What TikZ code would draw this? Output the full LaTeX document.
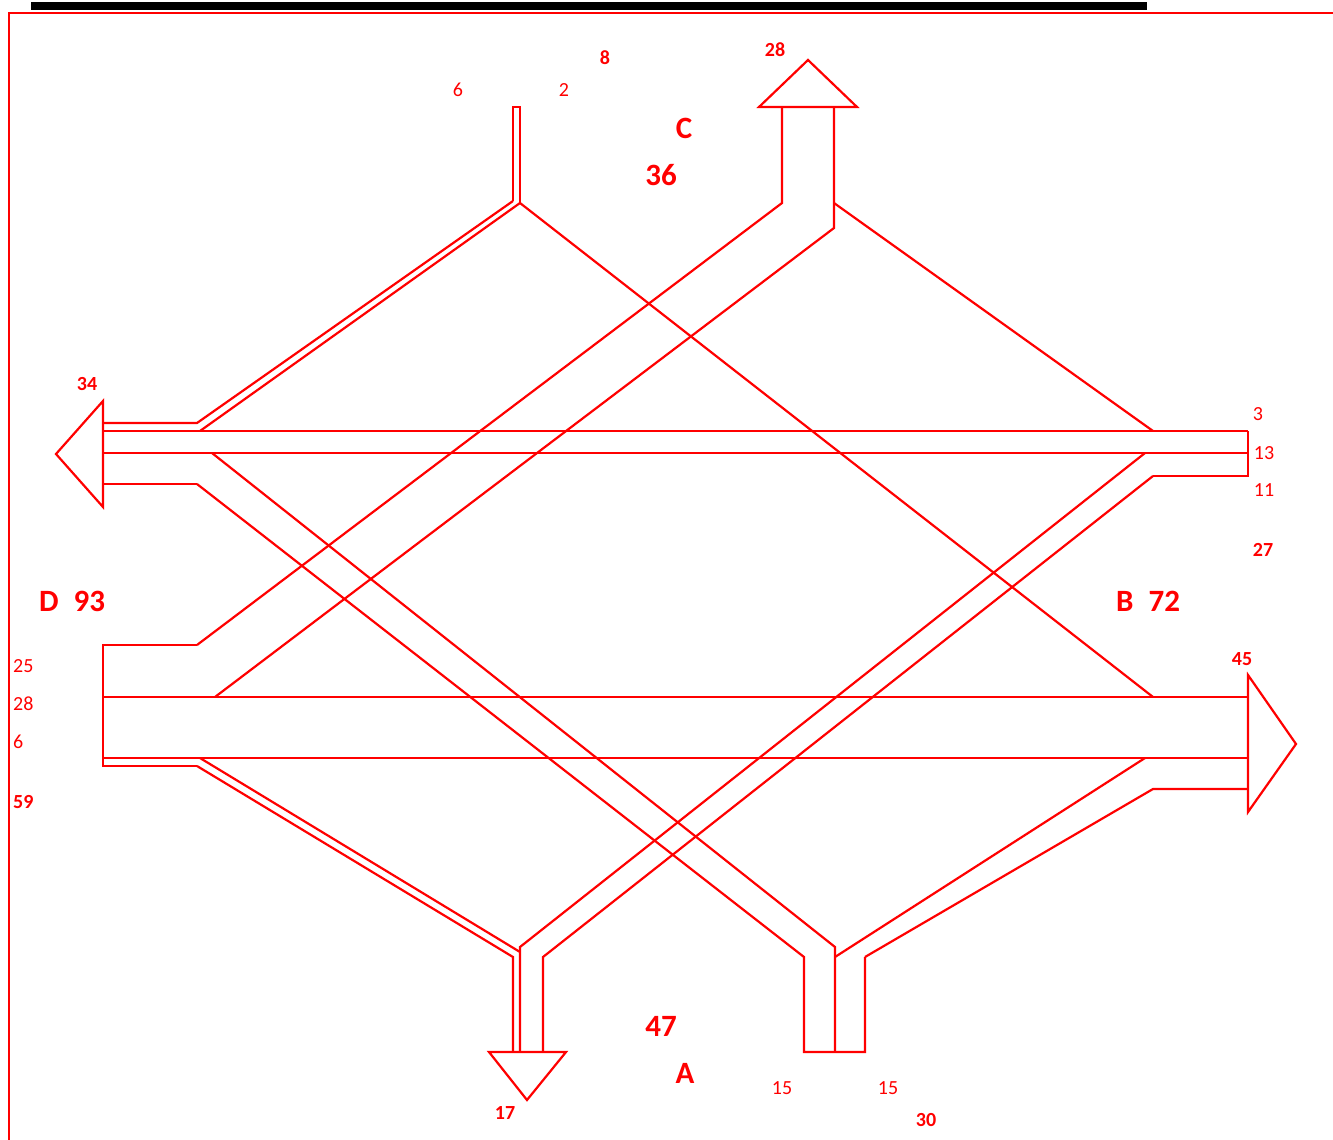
\documentclass[tikz,border=0pt]{standalone}
\usepackage{fontspec}
\setmainfont{Carlito}
\begin{document}
\begin{tikzpicture}[x=1pt,y=-1pt,
  flow/.style={draw=red, line width=2.2pt},
  small/.style={text=red, font=\fontsize{20}{24}\selectfont, inner sep=0pt},
  smallb/.style={text=red, font=\fontsize{20}{24}\selectfont\bfseries, inner sep=0pt},
  big/.style={text=red, font=\fontsize{31}{36}\selectfont\bfseries, inner sep=0pt}]
\useasboundingbox (0,0) rectangle (1333,1140);
% frame
\fill[black] (31,2) rectangle (1147,10);
\draw[red, line width=2pt] (9,1140) -- (9,13) -- (1333,13);
% junction coordinates
\coordinate (CinL) at (513,201);
\coordinate (CinR) at (520,203);
\coordinate (CoutL) at (782,203);
\coordinate (CoutRb) at (834,228);
\coordinate (CoutRt) at (834,203);
\coordinate (Douta) at (197,423);
\coordinate (Doutb) at (200,431);
\coordinate (Doutc) at (212,453);
\coordinate (Doutd) at (197,484);
\coordinate (Bina) at (1153,431);
\coordinate (Binb) at (1145,453);
\coordinate (Binc) at (1153,476);
\coordinate (Dina) at (197,645);
\coordinate (Dinb) at (215,697);
\coordinate (Dinc) at (200,758);
\coordinate (Dind) at (197,766);
\coordinate (Bouta) at (1153,697);
\coordinate (Boutb) at (1145,758);
\coordinate (Boutc) at (1153,789);
\coordinate (Aouta) at (513,957);
\coordinate (Aoutb) at (520,952);
\coordinate (Aoutbt) at (520,947);
\coordinate (Aoutc) at (543,957);
\coordinate (Aina) at (804,957);
\coordinate (Ainbt) at (835,947);
\coordinate (Ainb) at (835,957);
\coordinate (Ainc) at (865,957);
% C inflow
\draw[flow] (CinL) -- (513,107) -- (520,107) -- (CinR);
\draw[flow] (CinL) -- (Douta) -- (103,423);
\draw[flow] (CinR) -- (Doutb);
\draw[flow] (CinR) -- (Bouta);
% C outflow
\draw[flow] (Dina) -- (CoutL) -- (782,107);
\draw[flow] (834,107) -- (CoutRb) -- (Dinb);
\draw[flow] (759,107) -- (857,107) -- (808,60) -- cycle;
\draw[flow] (CoutRt) -- (Bina);
% D outflow
\draw[flow] (103,431) -- (1248,431);
\draw[flow] (103,453) -- (1248,453);
\draw[flow] (103,484) -- (Doutd);
\draw[flow] (103,401) -- (103,507) -- (56,454) -- cycle;
% B inflow
\draw[flow] (Binc) -- (1248,476) -- (1248,431);
\draw[flow] (Binb) -- (Aoutbt) -- (520,1052);
\draw[flow] (Binc) -- (Aoutc) -- (543,1052);
% A inflow
\draw[flow] (Doutd) -- (Aina) -- (804,1052) -- (865,1052) -- (Ainc);
\draw[flow] (Doutc) -- (Ainbt) -- (835,1052);
\draw[flow] (Ainb) -- (Boutb);
\draw[flow] (Ainc) -- (Boutc) -- (1248,789);
% D inflow
\draw[flow] (Dina) -- (103,645) -- (103,766) -- (Dind);
\draw[flow] (103,697) -- (1248,697);
\draw[flow] (103,758) -- (1248,758);
\draw[flow] (Dind) -- (Aouta) -- (513,1052);
\draw[flow] (Dinc) -- (Aoutb);
% arrows B out, A out
\draw[flow] (1248,675) -- (1248,812) -- (1296,744) -- cycle;
\draw[flow] (489,1052) -- (566,1052) -- (527,1100) -- cycle;
% labels
\node[smallb] (l8) at (605,58) {8};
\node[small] (l6c) at (458,90) {6};
\node[small] (l2c) at (564,90) {2};
\node[big] (lC) at (684,128) {C};
\node[big] (l36) at (661,175) {36};
\node[smallb] (l28c) at (775,50) {28};
\node[smallb] (l34) at (87,384) {34};
\node[small] (l3) at (1258,414) {3};
\node[small] (l13) at (1264,453) {13};
\node[small] (l11) at (1264,490) {11};
\node[smallb] (l27) at (1263,550) {27};
\node[big, anchor=west] (lD) at (39,601) {D\hspace{15pt}93};
\node[big, anchor=west] (lB) at (1116,601) {B\hspace{15pt}72};
\node[smallb] (l45) at (1242,659) {45};
\node[small, anchor=west] (l25) at (13,666) {25};
\node[small, anchor=west] (l28d) at (13,704) {28};
\node[small, anchor=west] (l6d) at (13,742) {6};
\node[smallb, anchor=west] (l59) at (13,802) {59};
\node[big] (l47) at (661,1026) {47};
\node[big] (lA) at (685,1073) {A};
\node[smallb] (l17) at (505,1113) {17};
\node[small] (l15a) at (782,1088) {15};
\node[small] (l15b) at (888,1088) {15};
\node[smallb] (l30) at (926,1120) {30};
\end{tikzpicture}
\end{document}
